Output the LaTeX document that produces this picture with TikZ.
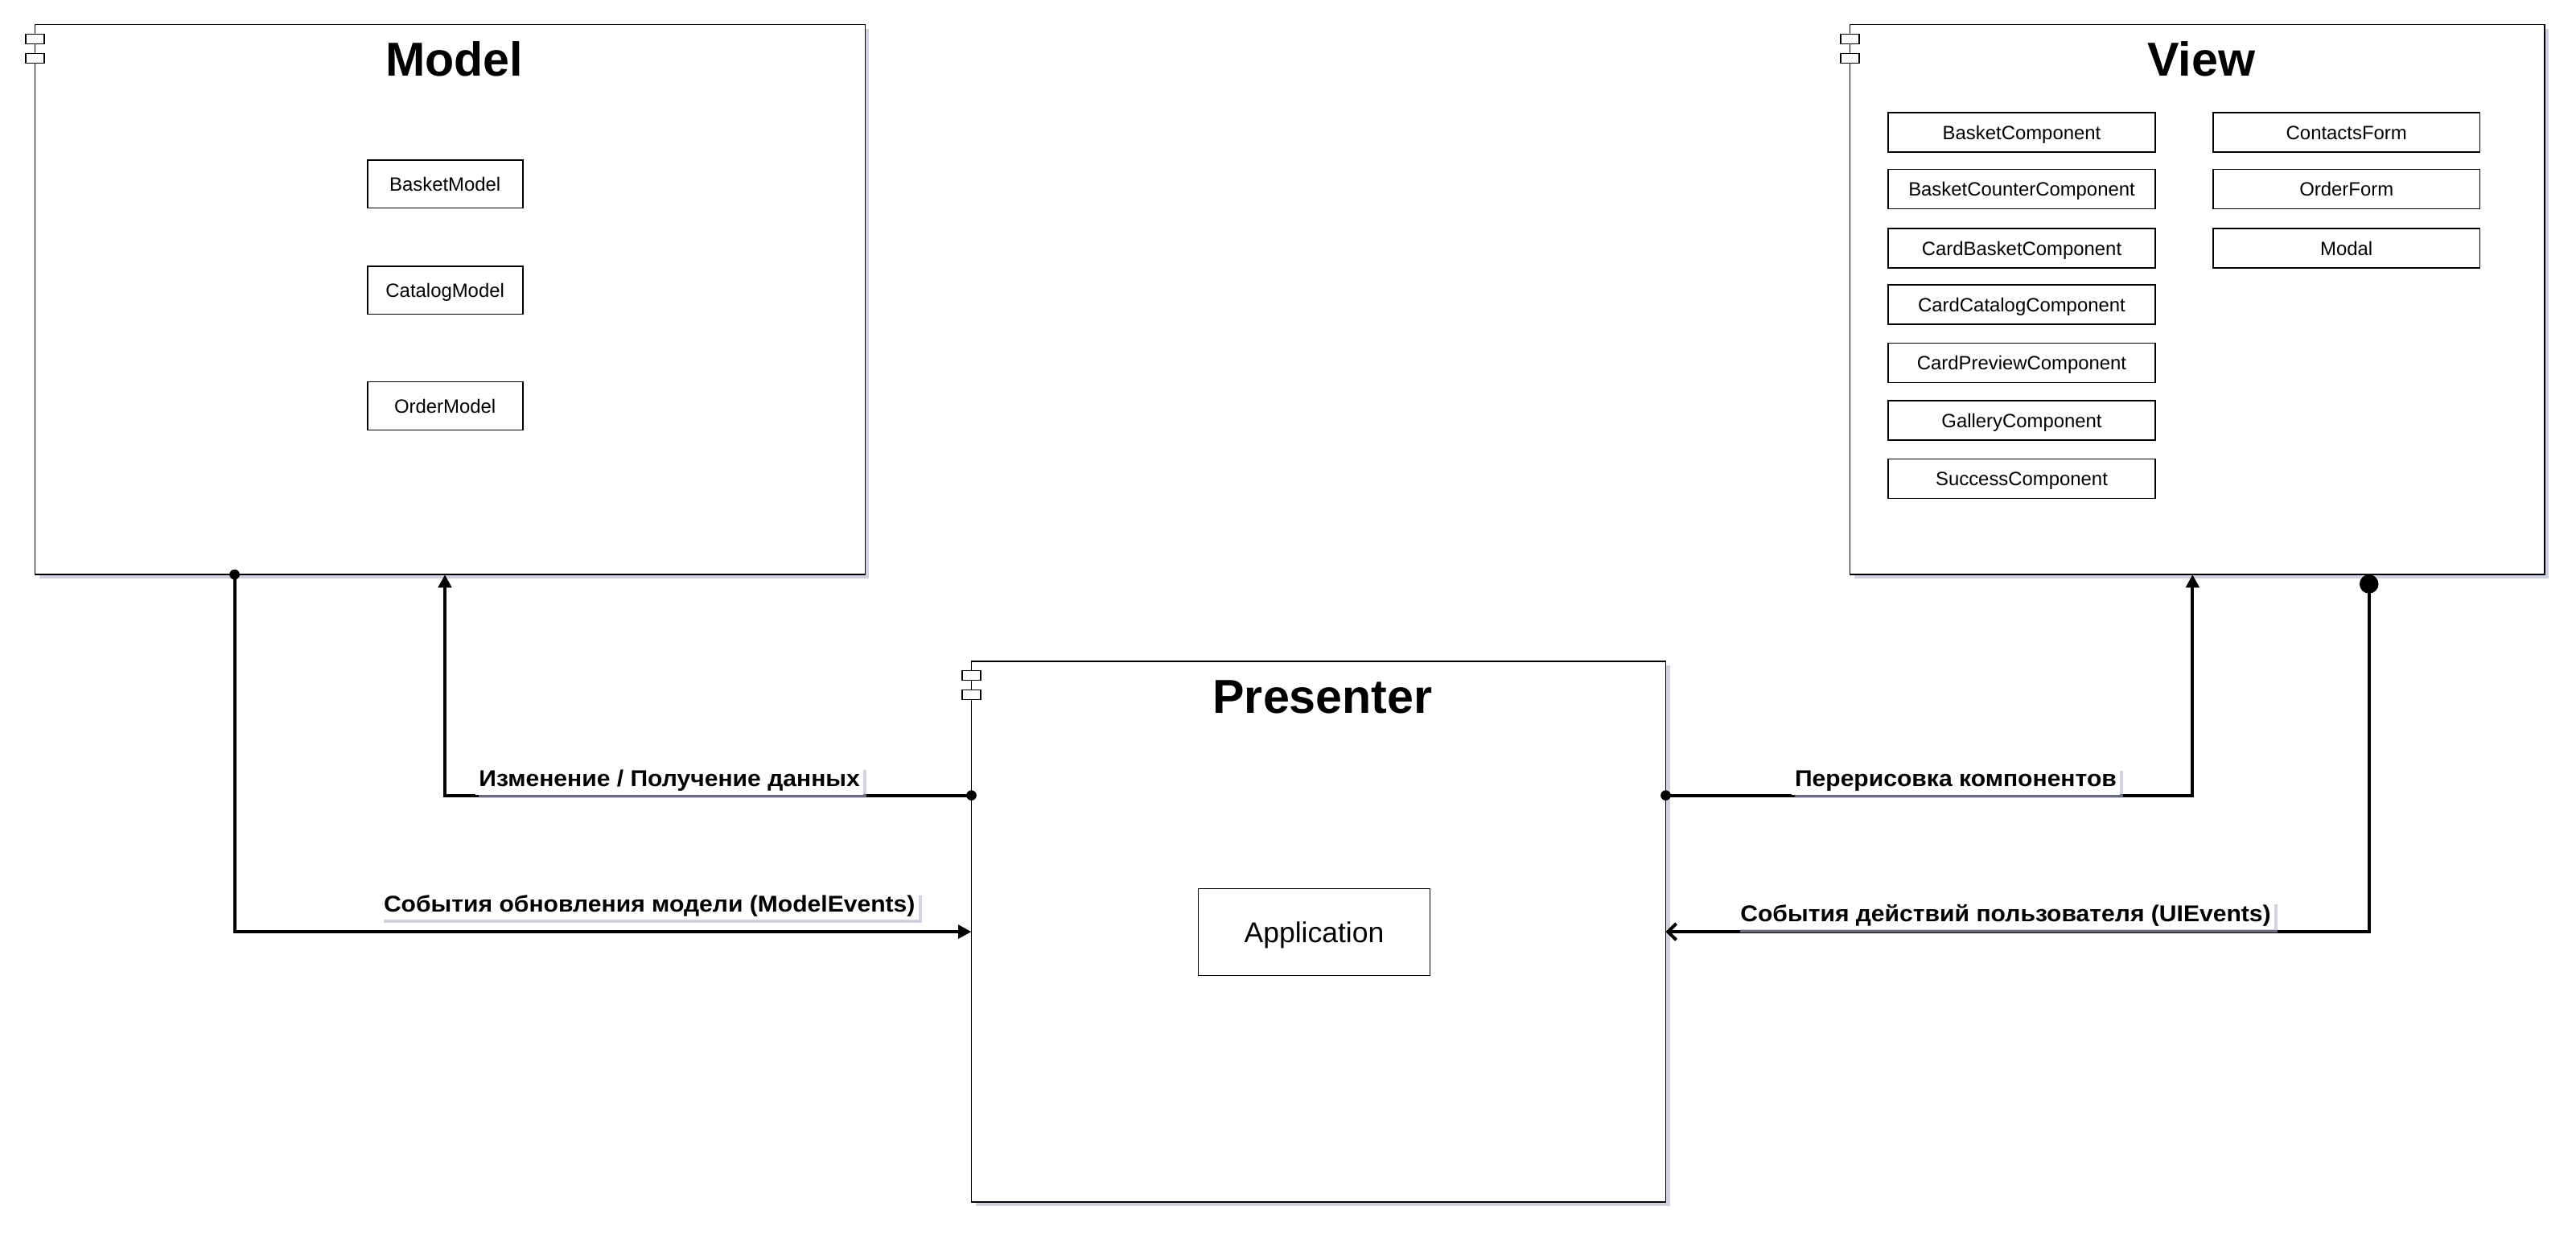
\documentclass[tikz,border=0pt]{standalone}
\usepackage{fontspec}
\setmainfont{Liberation Sans}
\usepackage{tikz, xcolor}
\usetikzlibrary{arrows.meta, shadows}
\definecolor{shade}{RGB}{176,178,205}

\begin{document}
\begin{tikzpicture}[x=1pt, y=-1pt,
    container/.style={draw, line width=0.8pt, fill=white, inner sep=0pt, outer sep=0pt, anchor=north west,
        drop shadow={shadow xshift=2.5pt, shadow yshift=-2.5pt, fill=shade, opacity=0.6}},
    icon/.style={draw, fill=white, line width=0.6pt, inner sep=0pt, minimum width=11.3pt, minimum height=5.8pt},
    title/.style={anchor=base, font=\bfseries\fontsize{29}{34}\selectfont},
    part/.style={draw, line width=0.8pt, inner sep=0pt, outer sep=0pt, text height=8.5pt, text depth=0pt,
        font=\fontsize{11.7}{14}\selectfont},
    conn/.style={line width=2pt},
    lbl/.style={fill=white, inner sep=2pt, anchor=base,
        font=\bfseries\fontsize{13.9}{16}\selectfont\addfontfeature{FakeStretch=1.06},
        drop shadow={shadow xshift=2pt, shadow yshift=-2pt, fill=shade, opacity=0.6}}]
    \useasboundingbox (0,0) rectangle (1568,751.2);

    % containers
    \node[container, minimum width=505.3pt, minimum height=334.7pt] (model) at (21.3,15) {};
    \node[container, minimum width=423pt, minimum height=334.7pt] (view) at (1126,15) {};
    \node[container, minimum width=422.6pt, minimum height=329.2pt] (presenter) at (591.3,402.5) {};

    \foreach \c in {model, view, presenter} {
        \node[icon] at ([yshift=-8.7pt]\c.north west) {};
        \node[icon] at ([yshift=-20.5pt]\c.north west) {};
    }

    \node[title] (modelTitle) at ([xshift=2.5pt, yshift=-31.2pt]model.north) {Model};
    \node[title] (viewTitle) at ([xshift=2.5pt, yshift=-31.2pt]view.north) {View};
    \node[title] (presenterTitle) at ([xshift=2.5pt, yshift=-31.7pt]presenter.north) {Presenter};

    % model parts
    \node[part, minimum width=94.5pt, minimum height=29.3pt] (mBasket) at (270.9,112) {BasketModel};
    \node[part, minimum width=94.5pt, minimum height=29.3pt] (mCatalog) at (270.9,176.6) {CatalogModel};
    \node[part, minimum width=94.5pt, minimum height=29.3pt] (mOrder) at (270.9,247.1) {OrderModel};

    % view parts
    \foreach \n/\t/\y in {vBasket/BasketComponent/80.7, vCounter/BasketCounterComponent/115,
        vCardBasket/CardBasketComponent/151.1, vCardCatalog/CardCatalogComponent/185.5,
        vCardPreview/CardPreviewComponent/220.9, vGallery/GalleryComponent/256,
        vSuccess/SuccessComponent/291.3}
        \node[part, minimum width=162.4pt, minimum height=24pt] (\n) at (1230.6,\y) {\t};
    \foreach \n/\t/\y in {vContacts/ContactsForm/80.7, vOrder/OrderForm/115, vModal/Modal/151.1}
        \node[part, minimum width=162.4pt, minimum height=24pt] (\n) at (1428.3,\y) {\t};

    % presenter part
    \node[part, minimum width=141.1pt, minimum height=52.9pt, text height=12.7pt,
        font=\fontsize{17.4}{20}\selectfont] (app) at (799.9,567.3) {Application};

    % connectors
    \draw[conn, -{Triangle[length=8pt, width=8pt]}] ([xshift=121.5pt]model.south west) |- (presenter.west);
    \fill ([xshift=121.5pt]model.south west) circle (3.1pt);

    \draw[conn, -{Triangle[length=8pt, width=8pt]}] ([yshift=83pt]presenter.west) -| ([xshift=249.5pt]model.south west);
    \fill ([yshift=83pt]presenter.west) circle (3.1pt);

    \draw[conn, -{Triangle[length=8pt, width=8pt]}] ([yshift=83pt]presenter.east) -| ([xshift=208.6pt]view.south west);
    \fill ([yshift=83pt]presenter.east) circle (3.1pt);

    \draw[conn, {Circle[length=11.5pt]}-{Straight Barb[length=5pt, width=10pt]}] ([xshift=316pt]view.south west) |- (presenter.east);

    % labels
    \node[lbl] (dataLbl) at (407.5,478.9) {Изменение / Получение данных};
    \node[lbl] (modelEvLbl) at (395.3,555) {События обновления модели (ModelEvents)};
    \node[lbl] (redrawLbl) at (1190.4,478.9) {Перерисовка компонентов};
    \node[lbl] (uiEvLbl) at (1220.8,560.9) {События действий пользователя (UIEvents)};
\end{tikzpicture}
\end{document}
